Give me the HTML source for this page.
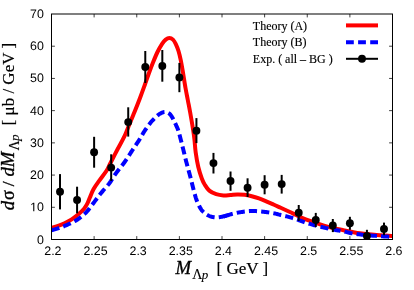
<!DOCTYPE html><html><head><meta charset="utf-8"><style>html,body{margin:0;padding:0;background:#fff}svg{display:block}text{white-space:pre}</style></head><body>
<svg width="414" height="290" viewBox="0 0 414 290">
<filter id="f" filterUnits="userSpaceOnUse" x="0" y="0" width="414" height="290"><feOffset dx="0" dy="0"/></filter>
<rect width="414" height="290" fill="#fff"/>
<g filter="url(#f)">
<clipPath id="c"><rect x="51.5" y="14" width="341" height="225.5"/></clipPath>
<g clip-path="url(#c)" fill="none">
<path d="M51.50,227.90 C52.70,227.53 56.53,226.48 58.70,225.70 C60.87,224.92 62.33,224.27 64.50,223.20 C66.67,222.13 69.28,220.88 71.70,219.30 C74.12,217.72 76.93,215.47 79.00,213.70 C81.07,211.93 82.72,210.37 84.10,208.70 C85.48,207.03 86.33,205.57 87.30,203.70 C88.27,201.83 88.87,199.91 89.90,197.49 C90.93,195.07 91.93,191.99 93.50,189.18 C95.07,186.37 97.13,183.70 99.30,180.64 C101.47,177.58 104.63,173.74 106.50,170.80 C108.37,167.86 108.63,166.63 110.50,163.00 C112.37,159.37 115.38,153.43 117.70,149.00 C120.02,144.57 122.55,140.27 124.40,136.40 C126.25,132.53 127.10,129.90 128.80,125.80 C130.50,121.70 132.68,116.57 134.60,111.80 C136.52,107.03 138.63,101.58 140.30,97.20 C141.97,92.82 143.15,89.53 144.60,85.50 C146.05,81.47 147.60,76.83 149.00,73.00 C150.40,69.17 151.58,66.00 153.00,62.50 C154.42,59.00 155.98,55.12 157.50,52.00 C159.02,48.88 160.73,45.87 162.10,43.80 C163.47,41.73 164.48,40.57 165.70,39.60 C166.92,38.63 168.18,38.00 169.40,38.00 C170.62,38.00 171.95,38.63 173.00,39.60 C174.05,40.57 174.78,41.90 175.70,43.80 C176.62,45.70 177.65,48.23 178.50,51.00 C179.35,53.77 180.07,56.90 180.80,60.40 C181.53,63.90 182.12,67.40 182.90,72.00 C183.68,76.60 184.67,83.25 185.50,88.00 C186.33,92.75 187.02,95.83 187.90,100.50 C188.78,105.17 189.90,110.92 190.80,116.00 C191.70,121.08 192.68,127.00 193.30,131.00 C193.92,135.00 194.10,136.42 194.50,140.00 C194.90,143.58 195.07,148.00 195.70,152.50 C196.33,157.00 197.28,162.67 198.30,167.00 C199.32,171.33 200.72,175.55 201.80,178.50 C202.88,181.45 203.55,182.68 204.80,184.70 C206.05,186.72 207.40,189.02 209.30,190.60 C211.20,192.18 213.83,193.40 216.20,194.20 C218.57,195.00 221.13,195.27 223.50,195.40 C225.87,195.53 228.12,195.15 230.40,195.00 C232.68,194.85 234.85,194.53 237.20,194.50 C239.55,194.47 242.08,194.52 244.50,194.80 C246.92,195.08 249.28,195.60 251.70,196.20 C254.12,196.80 256.58,197.55 259.00,198.40 C261.42,199.25 263.78,200.28 266.20,201.30 C268.62,202.32 271.08,203.42 273.50,204.50 C275.92,205.58 278.05,206.58 280.70,207.80 C283.35,209.02 286.43,210.42 289.40,211.80 C292.37,213.18 295.78,214.85 298.50,216.10 C301.22,217.35 303.28,218.33 305.70,219.30 C308.12,220.27 310.58,221.05 313.00,221.90 C315.42,222.75 317.78,223.62 320.20,224.40 C322.62,225.18 325.08,225.93 327.50,226.60 C329.92,227.27 332.05,227.80 334.70,228.40 C337.35,229.00 340.43,229.60 343.40,230.20 C346.37,230.80 349.78,231.48 352.50,232.00 C355.22,232.52 356.08,232.85 359.70,233.30 C363.32,233.75 368.73,234.27 374.20,234.70 C379.67,235.13 389.45,235.70 392.50,235.90" stroke="#ff0000" stroke-width="4" stroke-linejoin="round"/>
<path d="M51.50,230.20 L51.93,230.08 L52.48,229.94 L53.13,229.77 L53.86,229.58 L54.65,229.38 L55.47,229.15 L56.31,228.92 L57.14,228.68 L57.95,228.44 L58.70,228.20 L59.42,227.96 L60.14,227.70 L60.86,227.44 L61.58,227.17 L62.29,226.89 L63.01,226.61 L63.73,226.32 L64.45,226.02 L65.18,225.71 L65.90,225.40 L66.63,225.08 L67.38,224.74 L68.13,224.40 L68.88,224.05 L69.64,223.69 L70.38,223.33 L71.12,222.96 L71.83,222.60 L72.53,222.25 L73.20,221.90 L73.83,221.57 L74.43,221.26 L75.01,220.96 L75.56,220.67 L76.11,220.37 L76.65,220.06 L77.20,219.72 L77.77,219.36 L78.37,218.95 L79.00,218.50 L79.67,218.00 L80.37,217.46 L81.10,216.88 L81.85,216.27 L82.60,215.64 L83.35,214.99 L84.10,214.32 L84.83,213.65 L85.53,212.97 L86.20,212.30 L86.82,211.64 L87.40,210.99 L87.95,210.34 L88.48,209.69 L89.01,209.02 L89.54,208.32 L90.09,207.59 L90.68,206.81 L91.31,205.97 L92.00,205.07 L92.75,204.08 L93.55,203.01 L94.40,201.88 L95.27,200.69 L96.17,199.48 L97.08,198.24 L98.00,197.01 L98.91,195.80 L99.82,194.63 L100.70,193.50 L101.58,192.41 L102.48,191.34 L103.39,190.29 L104.30,189.25 L105.21,188.21 L106.10,187.19 L106.97,186.18 L107.82,185.18 L108.63,184.19 L109.40,183.20 L110.11,182.24 L110.75,181.31 L111.34,180.41 L111.91,179.51 L112.46,178.62 L113.01,177.73 L113.58,176.80 L114.20,175.85 L114.86,174.85 L115.60,173.80 L116.42,172.68 L117.31,171.50 L118.25,170.28 L119.24,169.03 L120.24,167.75 L121.24,166.47 L122.24,165.19 L123.21,163.92 L124.13,162.69 L125.00,161.50 L125.81,160.35 L126.58,159.21 L127.32,158.09 L128.04,156.99 L128.74,155.90 L129.43,154.82 L130.12,153.74 L130.80,152.66 L131.49,151.58 L132.20,150.50 L132.92,149.41 L133.65,148.32 L134.39,147.22 L135.12,146.13 L135.86,145.04 L136.58,143.96 L137.29,142.89 L137.98,141.84 L138.66,140.81 L139.30,139.80 L139.91,138.82 L140.49,137.86 L141.04,136.92 L141.57,135.99 L142.09,135.08 L142.60,134.18 L143.13,133.28 L143.66,132.39 L144.22,131.50 L144.80,130.60 L145.41,129.69 L146.04,128.78 L146.68,127.86 L147.33,126.94 L147.99,126.03 L148.65,125.14 L149.32,124.26 L149.98,123.41 L150.65,122.59 L151.30,121.80 L151.96,121.04 L152.64,120.29 L153.32,119.56 L154.01,118.85 L154.69,118.16 L155.37,117.51 L156.02,116.89 L156.65,116.31 L157.24,115.78 L157.80,115.30 L158.32,114.87 L158.80,114.50 L159.25,114.17 L159.68,113.89 L160.09,113.64 L160.48,113.42 L160.86,113.22 L161.24,113.04 L161.62,112.87 L162.00,112.70 L162.38,112.54 L162.74,112.40 L163.09,112.28 L163.44,112.17 L163.78,112.09 L164.11,112.02 L164.45,111.98 L164.79,111.96 L165.14,111.97 L165.50,112.00 L165.87,112.06 L166.26,112.14 L166.65,112.25 L167.05,112.39 L167.45,112.54 L167.84,112.72 L168.23,112.92 L168.61,113.13 L168.96,113.36 L169.30,113.60 L169.62,113.86 L169.91,114.14 L170.20,114.44 L170.47,114.76 L170.73,115.09 L170.99,115.45 L171.24,115.81 L171.49,116.20 L171.74,116.59 L172.00,117.00 L172.25,117.42 L172.50,117.84 L172.73,118.27 L172.97,118.71 L173.20,119.17 L173.44,119.66 L173.68,120.17 L173.94,120.71 L174.21,121.29 L174.50,121.90 L174.81,122.56 L175.15,123.25 L175.50,123.98 L175.87,124.74 L176.24,125.53 L176.62,126.33 L176.98,127.16 L177.34,128.00 L177.68,128.85 L178.00,129.70 L178.30,130.56 L178.58,131.44 L178.84,132.34 L179.10,133.25 L179.35,134.17 L179.60,135.11 L179.84,136.07 L180.09,137.03 L180.34,138.01 L180.60,139.00 L180.87,140.00 L181.13,141.02 L181.40,142.05 L181.67,143.10 L181.94,144.16 L182.21,145.23 L182.48,146.31 L182.75,147.40 L183.03,148.49 L183.30,149.60 L183.57,150.70 L183.83,151.79 L184.09,152.87 L184.34,153.96 L184.60,155.07 L184.87,156.20 L185.15,157.37 L185.44,158.59 L185.76,159.86 L186.10,161.20 L186.47,162.61 L186.86,164.09 L187.28,165.63 L187.71,167.21 L188.16,168.82 L188.61,170.47 L189.06,172.13 L189.52,173.79 L189.96,175.45 L190.40,177.10 L190.84,178.78 L191.28,180.53 L191.73,182.33 L192.19,184.14 L192.64,185.95 L193.08,187.72 L193.51,189.43 L193.93,191.04 L194.33,192.54 L194.70,193.90 L195.04,195.10 L195.34,196.17 L195.62,197.13 L195.88,198.00 L196.14,198.80 L196.39,199.56 L196.66,200.30 L196.94,201.03 L197.25,201.79 L197.60,202.60 L197.98,203.44 L198.36,204.29 L198.76,205.14 L199.18,205.99 L199.61,206.82 L200.06,207.64 L200.54,208.44 L201.03,209.20 L201.55,209.92 L202.10,210.60 L202.68,211.24 L203.29,211.86 L203.93,212.45 L204.59,213.01 L205.27,213.54 L205.96,214.04 L206.67,214.51 L207.38,214.94 L208.09,215.34 L208.80,215.70 L209.51,216.02 L210.24,216.30 L210.97,216.54 L211.71,216.75 L212.46,216.93 L213.21,217.08 L213.97,217.20 L214.72,217.29 L215.46,217.35 L216.20,217.40 L216.94,217.41 L217.67,217.39 L218.41,217.33 L219.15,217.24 L219.88,217.13 L220.61,217.00 L221.34,216.86 L222.07,216.71 L222.79,216.55 L223.50,216.40 L224.21,216.24 L224.91,216.06" stroke="#0000ff" stroke-width="4" stroke-dasharray="8.15,4.14"/>
<path d="M224.91,216.06 L225.60,215.86 L226.29,215.65 L226.98,215.44 L227.67,215.22 L228.35,215.00 L229.03,214.79 L229.72,214.59 L230.40,214.40 L231.08,214.22 L231.76,214.05 L232.43,213.88 L233.10,213.71 L233.78,213.55 L234.45,213.39 L235.13,213.24 L235.81,213.09 L236.50,212.94 L237.20,212.80 L237.91,212.66 L238.63,212.52 L239.36,212.39 L240.09,212.26 L240.82,212.14 L241.56,212.02 L242.30,211.90 L243.04,211.80 L243.77,211.69 L244.50,211.60 L245.22,211.51 L245.94,211.43 L246.66,211.35 L247.38,211.27 L248.10,211.21 L248.82,211.15 L249.54,211.09 L250.26,211.05 L250.98,211.02 L251.70,211.00 L252.43,210.99 L253.16,210.99 L253.89,211.01 L254.62,211.03 L255.35,211.06 L256.08,211.10 L256.81,211.14 L257.54,211.19 L258.27,211.25 L259.00,211.30 L259.72,211.36 L260.44,211.42 L261.16,211.49 L261.88,211.57 L262.60,211.65 L263.32,211.73 L264.04,211.82 L264.76,211.91 L265.48,212.01 L266.20,212.10 L266.93,212.19 L267.66,212.29 L268.39,212.39 L269.12,212.48 L269.85,212.59 L270.58,212.70 L271.31,212.81 L272.04,212.93 L272.77,213.06 L273.50,213.20 L274.22,213.35 L274.92,213.51 L275.62,213.68 L276.32,213.86 L277.01,214.04 L277.72,214.22 L278.43,214.42 L279.17,214.61 L279.92,214.80 L280.70,215.00 L281.51,215.19 L282.34,215.39 L283.19,215.58 L284.05,215.78 L284.93,215.98 L285.82,216.19 L286.71,216.40 L287.61,216.62 L288.51,216.86 L289.40,217.10 L290.30,217.36 L291.22,217.63 L292.16,217.92 L293.10,218.22 L294.04,218.52 L294.98,218.82 L295.90,219.13 L296.80,219.43 L297.67,219.72 L298.50,220.00 L299.30,220.27 L300.06,220.55 L300.80,220.81 L301.51,221.08 L302.21,221.34 L302.90,221.60 L303.59,221.86 L304.28,222.11 L304.98,222.36 L305.70,222.60 L306.43,222.84 L307.16,223.07 L307.89,223.30 L308.62,223.52 L309.35,223.74 L310.08,223.96 L310.81,224.17 L311.54,224.39 L312.27,224.59 L313.00,224.80 L313.72,225.00 L314.44,225.20 L315.16,225.40 L315.88,225.59 L316.60,225.78 L317.32,225.97 L318.04,226.15 L318.76,226.34 L319.48,226.52 L320.20,226.70 L320.93,226.88 L321.66,227.06 L322.39,227.23 L323.12,227.40 L323.85,227.57 L324.58,227.74 L325.31,227.91 L326.04,228.08 L326.77,228.24 L327.50,228.40 L328.22,228.56 L328.92,228.71 L329.62,228.87 L330.32,229.02 L331.01,229.17 L331.72,229.32 L332.43,229.46 L333.17,229.61 L333.92,229.75 L334.70,229.90 L335.51,230.04 L336.34,230.18 L337.19,230.31 L338.05,230.43 L338.93,230.56 L339.82,230.69 L340.71,230.83 L341.61,230.98 L342.51,231.13 L343.40,231.30 L344.27,231.48 L345.11,231.68 L345.93,231.89 L346.75,232.10 L347.59,232.33 L348.45,232.55 L349.36,232.77 L350.33,232.99 L351.37,233.20 L352.50,233.40 L353.71,233.59 L354.96,233.79 L356.27,233.97 L357.63,234.16 L359.05,234.34 L360.52,234.52 L362.05,234.70 L363.64,234.87 L365.29,235.04 L367.00,235.20 L368.86,235.36 L370.93,235.52 L373.14,235.69 L375.43,235.85 L377.73,236.00 L379.99,236.15 L382.14,236.28 L384.11,236.40 L385.86,236.51 L387.30,236.60 L388.45,236.67 L389.39,236.72 L390.13,236.75 L390.72,236.78 L391.17,236.79 L391.52,236.79 L391.80,236.79 L392.03,236.79 L392.26,236.79 L392.50,236.80" stroke="#0000ff" stroke-width="4" stroke-dasharray="8.15,4.13"/>
<path d="M223.50,216.40 L224.21,216.24 L224.91,216.06 L225.60,215.86 L226.29,215.65 L226.98,215.44" stroke="#0000ff" stroke-width="4"/>
</g>
<rect x="51.5" y="14" width="341" height="225.5" fill="none" stroke="#000" stroke-width="1"/>
<path d="M94.12,239.5 v-3.4 M94.12,14 v3.4 M136.75,239.5 v-3.4 M136.75,14 v3.4 M179.38,239.5 v-3.4 M179.38,14 v3.4 M222.00,239.5 v-3.4 M222.00,14 v3.4 M264.62,239.5 v-3.4 M264.62,14 v3.4 M307.25,239.5 v-3.4 M307.25,14 v3.4 M349.88,239.5 v-3.4 M349.88,14 v3.4 M51.5,207.29 h3.4 M392.5,207.29 h-3.4 M51.5,175.07 h3.4 M392.5,175.07 h-3.4 M51.5,142.86 h3.4 M392.5,142.86 h-3.4 M51.5,110.64 h3.4 M392.5,110.64 h-3.4 M51.5,78.43 h3.4 M392.5,78.43 h-3.4 M51.5,46.21 h3.4 M392.5,46.21 h-3.4" stroke="#000" stroke-width="0.75" fill="none"/>
<g font-family="Liberation Sans, sans-serif" font-size="12.4px" fill="#000" text-rendering="geometricPrecision">
<text x="52.90" y="255.1" text-anchor="middle">2.2</text>
<text x="95.53" y="255.1" text-anchor="middle">2.25</text>
<text x="138.15" y="255.1" text-anchor="middle">2.3</text>
<text x="180.78" y="255.1" text-anchor="middle">2.35</text>
<text x="223.40" y="255.1" text-anchor="middle">2.4</text>
<text x="266.02" y="255.1" text-anchor="middle">2.45</text>
<text x="308.65" y="255.1" text-anchor="middle">2.5</text>
<text x="351.27" y="255.1" text-anchor="middle">2.55</text>
<text x="393.90" y="255.1" text-anchor="middle">2.6</text>
<text x="43.9" y="243.50" text-anchor="end">0</text>
<path d="M33.23,211.29 L33.23,203.80 L31.30,205.17 L31.30,204.14 L33.32,202.75 L34.32,202.75 L34.32,211.29 Z" fill="#000"/>
<text x="43.9" y="211.29" text-anchor="end">0</text>
<text x="43.9" y="179.07" text-anchor="end">20</text>
<text x="43.9" y="146.86" text-anchor="end">30</text>
<text x="43.9" y="114.64" text-anchor="end">40</text>
<text x="43.9" y="82.43" text-anchor="end">50</text>
<text x="43.9" y="50.21" text-anchor="end">60</text>
<text x="43.9" y="18.00" text-anchor="end">70</text>
</g>
<path d="M60.02,174.10 V209.40" stroke="#000" stroke-width="2"/>
<circle cx="60.02" cy="191.70" r="3.95" fill="#000"/>
<path d="M77.08,186.70 V213.30" stroke="#000" stroke-width="2"/>
<circle cx="77.08" cy="200.00" r="3.95" fill="#000"/>
<path d="M94.12,136.80 V167.70" stroke="#000" stroke-width="2"/>
<circle cx="94.12" cy="152.30" r="3.95" fill="#000"/>
<path d="M111.17,154.30 V180.90" stroke="#000" stroke-width="2"/>
<circle cx="111.17" cy="167.60" r="3.95" fill="#000"/>
<path d="M128.22,107.30 V136.60" stroke="#000" stroke-width="2"/>
<circle cx="128.22" cy="122.10" r="3.95" fill="#000"/>
<path d="M145.28,51.00 V83.00" stroke="#000" stroke-width="2"/>
<circle cx="145.28" cy="67.00" r="3.95" fill="#000"/>
<path d="M162.32,50.00 V81.70" stroke="#000" stroke-width="2"/>
<circle cx="162.32" cy="66.00" r="3.95" fill="#000"/>
<path d="M179.38,62.90 V92.20" stroke="#000" stroke-width="2"/>
<circle cx="179.38" cy="77.40" r="3.95" fill="#000"/>
<path d="M196.43,118.10 V143.10" stroke="#000" stroke-width="2"/>
<circle cx="196.43" cy="130.70" r="3.95" fill="#000"/>
<path d="M213.47,152.90 V173.50" stroke="#000" stroke-width="2"/>
<circle cx="213.47" cy="163.10" r="3.95" fill="#000"/>
<path d="M230.53,171.50 V190.80" stroke="#000" stroke-width="2"/>
<circle cx="230.53" cy="181.00" r="3.95" fill="#000"/>
<path d="M247.58,178.30 V197.00" stroke="#000" stroke-width="2"/>
<circle cx="247.58" cy="187.70" r="3.95" fill="#000"/>
<path d="M264.62,175.20 V194.30" stroke="#000" stroke-width="2"/>
<circle cx="264.62" cy="184.70" r="3.95" fill="#000"/>
<path d="M281.68,174.90 V193.60" stroke="#000" stroke-width="2"/>
<circle cx="281.68" cy="184.10" r="3.95" fill="#000"/>
<path d="M298.73,205.00 V220.90" stroke="#000" stroke-width="2"/>
<circle cx="298.73" cy="212.80" r="3.95" fill="#000"/>
<path d="M315.77,212.90 V227.00" stroke="#000" stroke-width="2"/>
<circle cx="315.77" cy="220.00" r="3.95" fill="#000"/>
<path d="M332.82,219.00 V232.10" stroke="#000" stroke-width="2"/>
<circle cx="332.82" cy="225.50" r="3.95" fill="#000"/>
<path d="M349.88,216.80 V229.80" stroke="#000" stroke-width="2"/>
<circle cx="349.88" cy="223.30" r="3.95" fill="#000"/>
<path d="M366.93,229.80 V239.50" stroke="#000" stroke-width="2"/>
<circle cx="366.93" cy="235.90" r="3.95" fill="#000"/>
<path d="M383.98,222.60 V235.20" stroke="#000" stroke-width="2"/>
<circle cx="383.98" cy="228.90" r="3.95" fill="#000"/>
<g font-family="Liberation Serif, serif" font-size="12px" fill="#000" stroke="#000" stroke-width="0.15">
<text x="252.8" y="29.5">Theory (A)</text>
<text x="252.8" y="46.4">Theory (B)</text>
<text x="252.8" y="62.6">Exp. ( all – BG )</text>
</g>
<path d="M346,25.4 H378" stroke="#ff0000" stroke-width="4"/>
<path d="M346,42.2 H378" stroke="#0000ff" stroke-width="4" stroke-dasharray="7.8,4.3"/>
<path d="M346,58.8 H378" stroke="#000" stroke-width="2"/>
<circle cx="362" cy="58.8" r="3.95" fill="#000"/>
<g font-family="Liberation Serif, serif" fill="#000" stroke="#000" stroke-width="0.35" stroke-linejoin="round">
<text x="175.5" y="273.6" font-size="18.7px" font-style="italic">M</text>
<text x="192.3" y="278.5" font-size="14px" stroke-width="0.12">Λ<tspan font-size="13px" font-style="italic" dx="-0.8">p</tspan></text>
<text x="216.6" y="273.6" font-size="17px" stroke-width="0.2">[ GeV ]</text>
<g transform="translate(13.8,0) rotate(-90)">
<text x="-210.3" y="0" font-size="18.7px" font-style="italic">d</text>
<text x="-200" y="0" font-size="18px">σ</text>
<text x="-186.3" y="0" font-size="17px">/</text>
<text x="-176.6" y="0" font-size="18.7px" font-style="italic">dM</text>
<text x="-150.4" y="4.9" font-size="14px" stroke-width="0.12">Λ<tspan font-size="13px" font-style="italic" dx="-0.8">p</tspan></text>
<text x="-125.4" y="0" font-size="17px" stroke-width="0.2">[ μb / GeV ]</text>
</g>
</g>
</g></svg></body></html>
